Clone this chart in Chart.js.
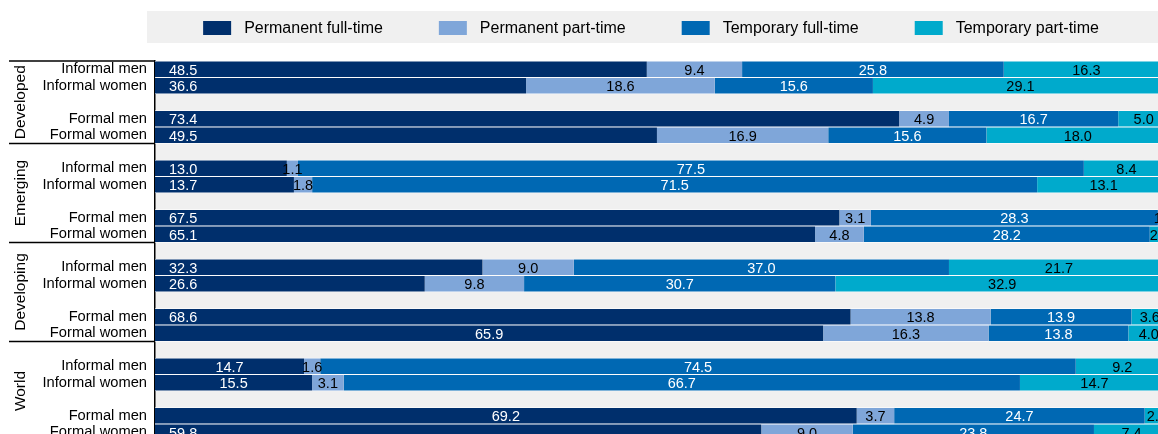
<!DOCTYPE html>
<html>
<head>
<meta charset="utf-8">
<script src="https://cdn.jsdelivr.net/npm/chart.js@4"></script>
<style>
  html, body { margin: 0; padding: 0; background: #fff; overflow: hidden; }
</style>
</head>
<body>
<canvas id="myChart" width="1170" height="434"></canvas>
<script>
var FONT = '"Liberation Sans", Arial, sans-serif';

// rows top to bottom, '' = spacer row
var rowLabels = [
  'Informal men', 'Informal women', '', 'Formal men', 'Formal women', '',
  'Informal men', 'Informal women', '', 'Formal men', 'Formal women', '',
  'Informal men', 'Informal women', '', 'Formal men', 'Formal women', '',
  'Informal men', 'Informal women', '', 'Formal men', 'Formal women'
];
var groupNames = ['Developed', 'Emerging', 'Developing', 'World'];

var permanentFull = [48.5, 36.6, null, 73.4, 49.5, null,
                     13.0, 13.7, null, 67.5, 65.1, null,
                     32.3, 26.6, null, 68.6, 65.9, null,
                     14.7, 15.5, null, 69.2, 59.8];
var permanentPart = [9.4, 18.6, null, 4.9, 16.9, null,
                     1.1, 1.8, null, 3.1, 4.8, null,
                     9.0, 9.8, null, 13.8, 16.3, null,
                     1.6, 3.1, null, 3.7, 9.0];
var temporaryFull = [25.8, 15.6, null, 16.7, 15.6, null,
                     77.5, 71.5, null, 28.3, 28.2, null,
                     37.0, 30.7, null, 13.9, 13.8, null,
                     74.5, 66.7, null, 24.7, 23.8];
var temporaryPart = [16.3, 29.1, null, 5.0, 18.0, null,
                     8.4, 13.1, null, 1.2, 2.0, null,
                     21.7, 32.9, null, 3.6, 4.0, null,
                     9.2, 14.7, null, 2.4, 7.4];

// where the permanent full-time value sits in its bar
var firstLabelPos = ['start', 'start', '', 'start', 'start', '',
                     'start', 'start', '', 'start', 'start', '',
                     'start', 'start', '', 'start', 'center', '',
                     'center', 'center', '', 'center', 'start'];

var colors = ['#002f6c', '#7fa6d9', '#0068b3', '#00aacc'];
var labelColors = ['#fff', '#000', '#fff', '#000'];
var names = ['Permanent full-time', 'Permanent part-time', 'Temporary full-time', 'Temporary part-time'];
var series = [permanentFull, permanentPart, temporaryFull, temporaryPart];

var ROW_H = 16.5;

var datasets = series.map(function (d, i) {
  return {
    label: names[i],
    data: d,
    backgroundColor: colors[i],
    borderColor: '#fff',
    borderWidth: { top: 0.8, bottom: 0.8, left: 0, right: 0 },
    borderSkipped: false,
    barPercentage: 1,
    categoryPercentage: 1
  };
});

// the plot runs on past the bottom edge of the picture
var stretchPlugin = {
  id: 'stretch',
  afterLayout: function (chart) {
    var a = chart.chartArea, y = chart.scales.y;
    var b = a.top + ROW_H * rowLabels.length;
    a.bottom = b;
    a.height = b - a.top;
    y.bottom = b;
    y.height = b - y.top;
    y.configure();
  }
};

var bgPlugin = {
  id: 'bg',
  beforeDraw: function (chart) {
    var c = chart.ctx, a = chart.chartArea;
    c.save();
    c.fillStyle = '#f0f0f0';
    c.fillRect(a.left, a.top, a.right - a.left, a.bottom - a.top);
    c.restore();
  }
};

// legend in a grey strip, drawn by hand
var legendPlugin = {
  id: 'legendStrip',
  afterDraw: function (chart) {
    var c = chart.ctx;
    c.save();
    c.fillStyle = '#f0f0f0';
    c.fillRect(147, 11, chart.width - 147, 32);
    c.font = '16px ' + FONT;
    c.textBaseline = 'middle';
    var box = 28, gap = 13, spacing = 56;
    var widths = names.map(function (n) { return c.measureText(n).width; });
    var total = 0;
    widths.forEach(function (w, i) { total += box + gap + w + (i < 3 ? spacing : 0); });
    var x = 651 - total / 2;
    names.forEach(function (n, i) {
      c.fillStyle = colors[i];
      c.fillRect(x, 21, box, 14);
      c.fillStyle = '#000';
      c.fillText(n, x + box + gap, 28.5);
      x += box + gap + widths[i] + spacing;
    });
    c.restore();
  }
};

var valuePlugin = {
  id: 'values',
  afterDatasetsDraw: function (chart) {
    var c = chart.ctx;
    c.save();
    c.font = '14.5px ' + FONT;
    c.textBaseline = 'middle';
    chart.data.datasets.forEach(function (ds, di) {
      chart.getDatasetMeta(di).data.forEach(function (bar, i) {
        var v = ds.data[i];
        if (v == null) return;
        var p = bar.getProps(['x', 'y', 'base'], true);
        c.fillStyle = labelColors[di];
        if (di === 0 && firstLabelPos[i] === 'start') {
          c.textAlign = 'left';
          c.fillText(v.toFixed(1), p.base + 14, p.y + 1.5);
        } else {
          c.textAlign = 'center';
          c.fillText(v.toFixed(1), (p.x + p.base) / 2, p.y + 1.5);
        }
      });
    });
    c.restore();
  }
};

// group names and the separating rules at the left
var groupPlugin = {
  id: 'groups',
  afterDraw: function (chart) {
    var c = chart.ctx, y = chart.scales.y, a = chart.chartArea;
    var half = (y.getPixelForValue(1) - y.getPixelForValue(0)) / 2;
    c.save();
    c.strokeStyle = '#000';
    c.lineWidth = 1.5;
    var edges = [a.top];
    for (var g = 0; g < 4; g++) {
      edges.push(y.getPixelForValue(g * 6 + 4) + half);
    }
    edges.forEach(function (e, i) {
      if (i === 4) return;
      c.beginPath();
      c.moveTo(9, e);
      c.lineTo(a.left, e);
      c.stroke();
    });
    c.fillStyle = '#000';
    c.font = '15.5px ' + FONT;
    c.textAlign = 'center';
    c.textBaseline = 'middle';
    groupNames.forEach(function (n, g) {
      var mid = (edges[g] + edges[g + 1]) / 2;
      c.save();
      c.translate(21, mid);
      c.rotate(-Math.PI / 2);
      c.fillText(n, 0, 0);
      c.restore();
    });
    c.restore();
  }
};

var ctx = document.getElementById('myChart');
var myChart = new Chart(ctx, {
  type: 'bar',
  data: { labels: rowLabels, datasets: datasets },
  options: {
    indexAxis: 'y',
    responsive: false,
    animation: false,
    layout: { padding: { top: 61, right: 1, bottom: 0, left: 0 } },
    plugins: { legend: { display: false }, tooltip: { enabled: false } },
    scales: {
      x: { stacked: true, min: 0, max: 100, display: false },
      y: {
        stacked: true,
        grid: { display: false, drawTicks: false },
        border: { display: true, color: '#000', width: 1.5 },
        ticks: { color: '#000', font: { family: FONT, size: 14.7 }, padding: 8, autoSkip: false },
        afterFit: function (s) { s.width = 155; }
      }
    }
  },
  plugins: [stretchPlugin, bgPlugin, valuePlugin, groupPlugin, legendPlugin]
});
</script>
</body>
</html>
